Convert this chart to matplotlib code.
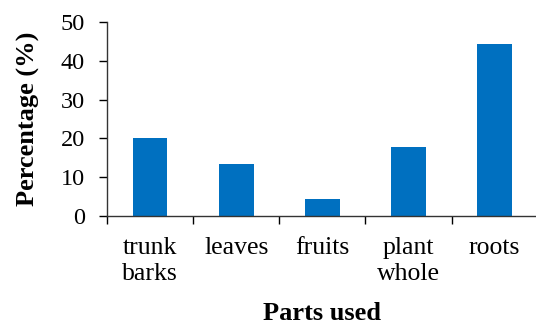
import matplotlib
matplotlib.use("Agg")
import matplotlib.pyplot as plt
import numpy as np

# data
categories = ["trunk\nbarks", "leaves", "fruits", "plant\nwhole", "roots"]
values = [20.0, 13.3, 4.4, 17.8, 44.4]

plt.rcParams["font.family"] = ["Liberation Serif", "DejaVu Serif"]

fig = plt.figure(figsize=(5.36, 3.25), dpi=100)
ax = fig.add_axes([0.2, 0.336, 0.803, 0.596])

x = np.arange(len(categories))
ax.bar(x, values, width=0.4, color="#0070C0")

ax.set_xlim(-0.5, len(categories) - 0.5)
ax.set_ylim(0, 50)
ax.set_yticks(range(0, 51, 10))

# ticks between categories, labels at centres
ax.set_xticks(np.arange(len(categories) + 1) - 0.5)
ax.set_xticklabels([])
ax.set_xticks(x, minor=True)
ax.set_xticklabels(categories, minor=True, fontsize=18.5, linespacing=1.25)
ax.tick_params(axis="x", which="minor", length=0, pad=15)
ax.tick_params(axis="x", which="major", length=6, width=1, direction="out")
ax.tick_params(axis="y", length=6, width=1, labelsize=17.5, pad=10)

for s in ["top", "right"]:
    ax.spines[s].set_visible(False)
for s in ["left", "bottom"]:
    ax.spines[s].set_color("#333333")
    ax.spines[s].set_linewidth(1)

ax.set_ylabel("Percentage (%)", fontsize=19, fontweight="bold", labelpad=15)
ax.set_xlabel("Parts used", fontsize=19, fontweight="bold", labelpad=12)

fig.savefig("out.png", dpi=100)
